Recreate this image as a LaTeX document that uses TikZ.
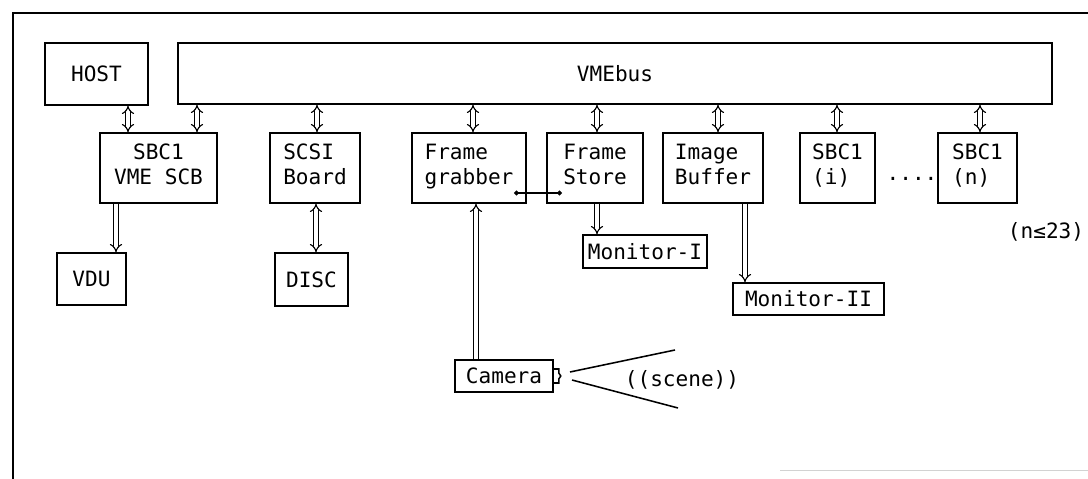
\documentclass[tikz,border=0pt]{standalone}
\usepackage{fontspec}
\setmainfont{DejaVu Sans Mono}
\usepackage{tikz}
\usetikzlibrary{arrows.meta}

\tikzset{
    box/.style={draw, line width=1.1pt, inner sep=0pt, align=left, font=\fontsize{15}{18}\selectfont},
    board/.style={box, minimum height=1.75cm, execute at end node=\strut},
    bus/.style={double, double distance=2.2pt, line width=0.8pt, {Implies}-{Implies}},
    busdown/.style={double, double distance=2.2pt, line width=0.8pt, -{Implies}},
    busup/.style={double, double distance=2.2pt, line width=0.8pt, {Implies}-},
    link/.style={line width=0.8pt, {Circle[length=3.5pt]}-{Circle[length=3.5pt]}},
    label/.style={font=\fontsize{15}{18}\selectfont}
}

\begin{document}
\begin{tikzpicture}[x=0.025cm, y=-0.025cm]
        \useasboundingbox (0,0) rectangle (1088,479);

        % Outer frame
        \draw[line width=1.1pt] (1088,13) -- (13,13) -- (13,479);
        \draw[gray!35, line width=0.6pt] (780,470) -- (1088,470);

        % Top row
        \node[box, minimum width=2.575cm, minimum height=1.55cm] (host) at (96.5,74) {HOST};
        \node[box, minimum width=21.85cm, minimum height=1.525cm] (vme) at (615,73.5) {VMEbus};

        % Boards on the bus
        \node[board, align=center, minimum width=2.925cm] (sbc) at (158.5,168) {SBC1\\VME SCB};
        \node[board, minimum width=2.25cm] (scsi) at (315,168) {SCSI\\Board};
        \node[board, minimum width=2.85cm] (fg) at (469,168) {Frame\\grabber};
        \node[board, minimum width=2.4cm] (fs) at (595,168) {Frame\\Store};
        \node[board, minimum width=2.5cm] (ib) at (713,168) {Image\\Buffer};
        \node[board, minimum width=1.875cm] (sbci) at (837.5,168) {SBC1\\(i)\phantom{ }};
        \node[board, minimum width=1.975cm] (sbcn) at (977.5,168) {SBC1\\(n)\phantom{ }};
        \node[label, anchor=base] (dots) at (912,181) {....};
        \node[label] (limit) at (1046,232) {(n≤23)};

        % Peripherals
        \node[box, minimum width=1.725cm, minimum height=1.3cm] (vdu) at (91.5,279) {VDU};
        \node[box, minimum width=1.825cm, minimum height=1.325cm] (disc) at (311.5,279.5) {DISC};
        \node[box, minimum width=3.1cm, minimum height=0.825cm] (mon1) at (645,251.5) {Monitor-I};
        \node[box, minimum width=3.775cm, minimum height=0.8cm] (mon2) at (808.5,299) {Monitor-II};
        \node[box, minimum width=2.45cm, minimum height=0.8cm] (cam) at (504,376) {Camera};
        \draw[line width=1.1pt] (cam.east |- 0,369) -- ++(5,0) -- ++(0,4) -- ++(2,3) -- ++(-2,3) -- ++(0,4) -- ++(-5,0);

        % Scene
        \coordinate (lensa) at (570,372);
        \coordinate (lensb) at (572,380);
        \coordinate (fara) at (675,350);
        \coordinate (farb) at (678,408);
        \draw[line width=1.1pt] (lensa) -- (fara);
        \draw[line width=1.1pt] (lensb) -- (farb);
        \node[label] (scene) at (682,380) {((scene))};

        % Bus connections
        \draw[bus] (128,0 |- host.south) -- (128,0 |- sbc.north);
        \foreach \x/\n in {197/sbc, 317/scsi, 473/fg, 597/fs, 718/ib, 837/sbci, 980/sbcn} {
            \draw[bus] (\x,0 |- vme.south) -- (\x,0 |- \n.north);
        }

        % Peripheral connections
        \draw[busdown] (116,0 |- sbc.south) -- (116,0 |- vdu.north);
        \draw[bus] (316,0 |- scsi.south) -- (316,0 |- disc.north);
        \draw[busdown] (597,0 |- fs.south) -- (597,0 |- mon1.north);
        \draw[busdown] (745,0 |- ib.south) -- (745,0 |- mon2.north);
        \draw[busup] (476,0 |- fg.south) -- (476,0 |- cam.north);

        % Frame grabber to frame store
        \coordinate (fgout) at (514,193);
        \coordinate (fsin) at (562,193);
        \draw[link] (fgout) -- (fsin);

    \end{tikzpicture}
\end{document}
